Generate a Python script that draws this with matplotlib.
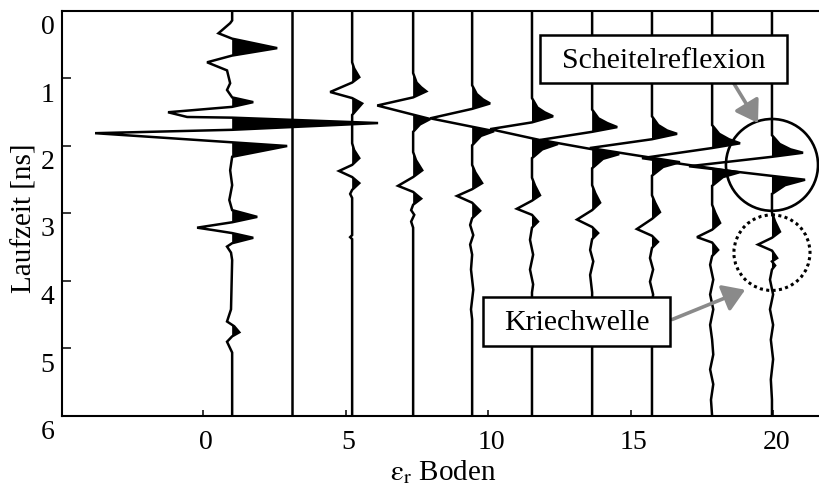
import matplotlib
matplotlib.use('Agg')  # no display available
import matplotlib.pyplot as plt
import numpy as np
from matplotlib.patches import Rectangle, Ellipse
from matplotlib.transforms import ScaledTranslation

plt.rcParams['font.family'] = ['Liberation Serif', 'DejaVu Serif']
plt.rcParams['mathtext.fontset'] = 'stix'

# eps_r position of each trace on the x axis
trace_pos = [1.02, 3.12, 5.23, 7.37, 9.44, 11.54, 13.65, 15.75, 17.86, 19.96]

# travel time [ns] and trace deflection (in x-axis units) for every trace
t1 = [0, 0.14, 0.18, 0.33, 0.41, 0.55, 0.66, 0.76, 0.88, 1.07, 1.17, 1.28, 1.35, 1.42,
      1.50, 1.57, 1.58, 1.66, 1.76, 1.81, 2.00, 2.16, 2.36, 2.58, 2.80, 2.95, 3.05, 3.13,
      3.21, 3.25, 3.29, 3.36, 3.44, 3.49, 3.58, 3.69, 4.42, 4.60, 4.67, 4.76, 4.82, 4.90,
      5.06, 6.0]
a1 = [0, 0, -0.07, -0.48, 0, 1.58, 0, -0.88, -0.18, -0.07, -0.18, 0, 0.74, 0,
      -2.25, -1.58, 0, 5.12, 0, -4.81, 1.93, 0, -0.07, 0, -0.1, 0, 0.88, 0,
      -1.23, -0.6, 0, 0.74, 0, -0.18, -0.04, 0, -0.04, -0.18, 0.07, 0.25, 0, -0.18,
      0, 0]

t2 = [0, 6.0]
a2 = [0, 0]

t3 = [0, 0.76, 0.85, 0.98, 1.06, 1.20, 1.29, 1.37, 1.54, 1.96, 2.06, 2.18, 2.28, 2.37,
      2.46, 2.55, 2.65, 2.71, 2.77, 3.32, 3.35, 3.38, 6.0]
a3 = [0, 0, 0.07, 0.25, 0, -0.77, 0, 0.35, 0, 0, 0.07, 0.25, 0, -0.46,
      0, 0.25, 0, -0.07, 0, 0, -0.07, 0, 0]

t4 = [0, 0.92, 1.06, 1.13, 1.19, 1.28, 1.40, 1.60, 1.68, 1.79, 2.09, 2.21, 2.36, 2.46,
      2.59, 2.68, 2.78, 2.87, 2.95, 3.02, 3.12, 3.21, 6.0]
a4 = [0, 0, 0.12, 0.28, 0.46, 0, -1.26, 0.6, 0.24, 0, 0, 0.1, 0.32, 0,
      -0.53, 0, 0.28, 0, -0.07, 0.04, -0.07, 0, 0]

t5 = [0, 1.10, 1.23, 1.31, 1.37, 1.45, 1.59, 1.78, 1.85, 1.99, 2.28, 2.39, 2.55, 2.64,
      2.74, 2.84, 2.96, 3.07, 3.17, 3.32, 3.46, 3.61, 3.83, 4.13, 4.42, 4.57, 6.0]
a5 = [0, 0, 0.16, 0.38, 0.63, 0, -1.47, 0.77, 0.31, 0, 0, 0.11, 0.35, 0,
      -0.53, 0, 0.28, 0, -0.07, 0.04, -0.07, 0, -0.04, 0.04, -0.04, 0, 0]

t6 = [0, 1.29, 1.43, 1.50, 1.56, 1.65, 1.75, 1.97, 2.05, 2.18, 2.47, 2.59, 2.73, 2.81,
      2.93, 3.02, 3.12, 3.21, 3.39, 3.61, 3.83, 4.05, 4.17, 6.0]
a6 = [0, 0, 0.19, 0.44, 0.74, 0, -1.47, 0.91, 0.36, 0, 0, 0.11, 0.28, 0,
      -0.53, 0, 0.21, 0, -0.07, 0.04, -0.07, 0.04, 0, 0]

t7 = [0, 1.46, 1.59, 1.66, 1.72, 1.79, 1.91, 2.12, 2.19, 2.33, 2.58, 2.70, 2.84, 2.95,
      3.09, 3.20, 3.29, 3.38, 3.54, 3.71, 3.91, 4.17, 6.0]
a7 = [0, 0, 0.22, 0.53, 0.88, 0, -1.82, 0.95, 0.38, 0, 0, 0.11, 0.28, 0,
      -0.53, 0, 0.21, 0, -0.07, 0.04, -0.07, 0, 0]

t8 = [0, 1.56, 1.69, 1.77, 1.82, 1.90, 2.03, 2.24, 2.31, 2.44, 2.73, 2.84, 2.98, 3.08,
      3.23, 3.33, 3.42, 3.51, 3.66, 3.83, 4.01, 4.20, 4.35, 4.57, 4.87, 6.0]
a8 = [0, 0, 0.22, 0.53, 0.88, 0, -2.18, 0.98, 0.39, 0, 0, 0.11, 0.28, 0,
      -0.53, 0, 0.21, 0, -0.07, 0.04, -0.07, 0.04, 0, -0.04, 0, 0]

t9 = [0, 1.69, 1.82, 1.90, 1.96, 2.03, 2.18, 2.39, 2.46, 2.59, 2.87, 2.99, 3.14, 3.24,
      3.35, 3.43, 3.54, 3.63, 3.76, 3.98, 4.20, 4.42, 4.65, 4.87, 5.09, 5.31, 5.53, 5.76,
      6.0]
a9 = [0, 0, 0.25, 0.59, 0.98, 0, -2.46, 0.95, 0.38, 0, 0, 0.11, 0.28, 0,
      -0.53, 0, 0.21, 0, -0.07, 0.04, -0.07, 0.04, -0.07, 0, 0.04, -0.07, 0.04, -0.04,
      0]

t10 = [0, 1.84, 1.97, 2.05, 2.10, 2.16, 2.30, 2.50, 2.58, 2.71, 2.99, 3.12, 3.27, 3.36,
       3.46, 3.55, 3.66, 3.71, 3.77, 3.83, 3.98, 4.20, 4.42, 4.65, 4.87, 5.16, 5.46, 5.76,
       6.0]
a10 = [0, 0, 0.27, 0.65, 1.09, 0, -2.91, 1.16, 0.46, 0, 0, 0.11, 0.28, 0,
       -0.49, 0, 0.18, 0, 0.11, 0, -0.07, 0.04, -0.07, 0.04, -0.04, 0.04, -0.04, 0,
       0]

times = [t1, t2, t3, t4, t5, t6, t7, t8, t9, t10]
amps = [a1, a2, a3, a4, a5, a6, a7, a8, a9, a10]

xticks = [0, 5, 10, 15, 20]
yticks = [0, 1, 2, 3, 4, 5, 6]

fig = plt.figure(figsize=(8.19, 4.86), dpi=100)
ax = fig.add_axes([62 / 819, 70 / 486, 757 / 819, 405 / 486])

# wiggle traces, positive half filled black
for x0, t, a in zip(trace_pos, times, amps):
    t = np.asarray(t, dtype=float)
    a = np.asarray(a, dtype=float)
    ax.fill_betweenx(t, x0, x0 + a, where=a > 0, interpolate=True,
                     color='black', lw=0, zorder=2)
    ax.plot(x0 + a, t, color='black', lw=1.8, zorder=3, solid_joinstyle='miter')

ax.set_xlim(-4.95, 21.61)
ax.set_ylim(6, 0)

for side in ['left', 'bottom', 'top']:
    ax.spines[side].set_linewidth(1.5)
ax.spines['right'].set_visible(False)

ax.set_xticks(xticks)
ax.set_yticks(yticks)
ax.tick_params(axis='x', direction='in', length=4.3, width=1.1, labelsize=20, pad=10)
ax.tick_params(axis='y', direction='in', length=6.5, width=1.1, labelsize=20, pad=5.5)
for lab in ax.get_xticklabels():
    lab.set_transform(lab.get_transform() + ScaledTranslation(3 / 100, 0, fig.dpi_scale_trans))
for lab in ax.get_yticklabels():
    lab.set_va('top')
    lab.set_transform(lab.get_transform() + ScaledTranslation(0, -4 / 100, fig.dpi_scale_trans))

fig.text(25 / 819, 1 - 218 / 486, 'Laufzeit [ns]', rotation=90,
         ha='center', va='center', fontsize=21)
fig.text(443 / 819, 6 / 486, r'$\mathrm{ε_r}$ Boden', ha='center', va='baseline', fontsize=21)

# highlighted events
ax.add_patch(Ellipse((19.96, 2.28), 3.23, 1.36, fill=False, ec='black', lw=1.9, zorder=6))
ax.add_patch(Ellipse((19.96, 3.58), 2.67, 1.12, fill=False, ec='black', lw=2.2,
                     ls=(0, (1, 1.1)), zorder=6))

ax.add_patch(Rectangle((11.82, 0.362), 20.49 - 11.82, 1.071 - 0.362, fc='white',
                       ec='black', lw=1.8, zorder=8))
ax.text(16.16, 0.85, 'Scheitelreflexion', ha='center', va='baseline', fontsize=21.5, zorder=9)
ax.add_patch(Rectangle((9.82, 4.23), 16.39 - 9.82, 4.96 - 4.23, fc='white',
                       ec='black', lw=1.8, zorder=8))
ax.text(13.11, 4.72, 'Kriechwelle', ha='center', va='baseline', fontsize=21.5, zorder=9)

arrow = dict(arrowstyle='-|>,head_length=0.65,head_width=0.42', lw=2.6,
             color='#8a8a8a', shrinkA=0, shrinkB=0, mutation_scale=20)
ax.annotate('', xy=(19.47, 1.66), xytext=(18.56, 1.03), arrowprops=arrow, zorder=7)
ax.annotate('', xy=(19.02, 4.13), xytext=(16.46, 4.57), arrowprops=arrow, zorder=7)

fig.savefig('out.png', dpi=100)
